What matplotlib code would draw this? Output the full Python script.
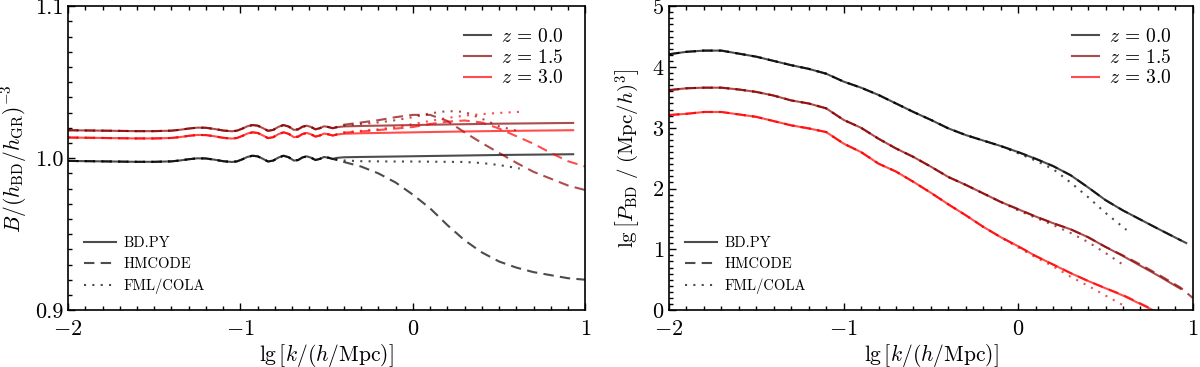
import numpy as np
import matplotlib
matplotlib.use("Agg")
import matplotlib.pyplot as plt
from matplotlib.lines import Line2D
from matplotlib.ticker import MultipleLocator, FormatStrFormatter

plt.rcParams['mathtext.fontset'] = 'cm'
plt.rcParams['font.family'] = 'serif'
plt.rcParams['font.serif'] = ['cmr10', 'DejaVu Serif']
plt.rcParams['axes.formatter.use_mathtext'] = True

redshifts = ['0.0', '1.5', '3.0']
colors = ['black', 'darkred', 'red']

# ---- left panel: boost ratio B/(h_BD/h_GR)^-3 ----
# BD.PY (solid); its low-k part is shared with the other two codes
bd_x = [-2.0, -1.8, -1.6, -1.5, -1.4, -1.35, -1.3, -1.25, -1.2, -1.15, -1.1, -1.05,
        -1.02, -0.99, -0.96, -0.93, -0.9, -0.87, -0.84, -0.81, -0.78, -0.75, -0.72,
        -0.69, -0.665, -0.64, -0.615, -0.59, -0.565, -0.54, -0.515, -0.49, -0.465,
        -0.44, -0.4, -0.3, -0.1, 0.2, 0.5, 0.93]
bd_z0 = [0.9982, 0.9979, 0.9976, 0.9976, 0.9979, 0.9985, 0.9993, 0.9999, 0.9998, 0.9990,
         0.9980, 0.9975, 0.9979, 0.9992, 1.0008, 1.0016, 1.0012, 0.9996, 0.9978, 0.9984,
         1.0004, 1.0016, 1.0006, 0.9984, 0.9988, 1.0005, 1.0012, 1.0003, 0.9988, 0.9995,
         1.0008, 1.0003, 0.9995, 1.0002, 1.0006, 1.0008, 1.0011, 1.0016, 1.0021, 1.0026]
bd_z15 = [1.0184, 1.0181, 1.0178, 1.0178, 1.0181, 1.0187, 1.0195, 1.0201, 1.0200, 1.0192,
          1.0182, 1.0177, 1.0181, 1.0194, 1.0210, 1.0218, 1.0214, 1.0198, 1.0180, 1.0186,
          1.0206, 1.0218, 1.0208, 1.0186, 1.0190, 1.0207, 1.0214, 1.0205, 1.0190, 1.0197,
          1.0210, 1.0205, 1.0197, 1.0204, 1.0209, 1.0212, 1.0216, 1.0222, 1.0227, 1.0232]
bd_z3 = [1.0136, 1.0133, 1.0130, 1.0130, 1.0133, 1.0139, 1.0147, 1.0153, 1.0152, 1.0144,
         1.0134, 1.0129, 1.0133, 1.0146, 1.0162, 1.0170, 1.0166, 1.0150, 1.0132, 1.0138,
         1.0158, 1.0170, 1.0160, 1.0138, 1.0142, 1.0159, 1.0166, 1.0157, 1.0142, 1.0149,
         1.0162, 1.0157, 1.0149, 1.0156, 1.0161, 1.0164, 1.0168, 1.0174, 1.0179, 1.0184]
n_shared = bd_x.index(-0.44)

# HMCODE (dashed) beyond the shared part
hm_x = [-0.4, -0.3, -0.2, -0.1, 0.0, 0.1, 0.2, 0.3, 0.4, 0.5, 0.6, 0.7, 0.8, 0.9, 1.0]
hm_z0 = [0.9975, 0.9945, 0.9900, 0.9840, 0.9760, 0.9670, 0.9560, 0.9460, 0.9380, 0.9320,
         0.9280, 0.9250, 0.9230, 0.9210, 0.9200]
hm_z15 = [1.0220, 1.0235, 1.0250, 1.0270, 1.0285, 1.0285, 1.0245, 1.0170, 1.0100, 1.0035,
          0.9970, 0.9910, 0.9865, 0.9820, 0.9790]
hm_z3 = [1.0168, 1.0176, 1.0185, 1.0195, 1.0205, 1.0225, 1.0240, 1.0248, 1.0235, 1.0195,
         1.0145, 1.0095, 1.0035, 0.9980, 0.9945]

# FML/COLA (dotted) beyond the shared part
fml_x = [-0.4, -0.3, -0.2, -0.1, 0.0, 0.1, 0.2, 0.3, 0.4, 0.5, 0.62]
fml_z0 = [0.9985, 0.9980, 0.9979, 0.9978, 0.9978, 0.9977, 0.9976, 0.9975, 0.9968, 0.9955, 0.9932]
fml_z15 = [1.0215, 1.0225, 1.0235, 1.0250, 1.0270, 1.0295, 1.0310, 1.0305, 1.0260, 1.0210, 1.0175]
fml_z3 = [1.0170, 1.0180, 1.0190, 1.0205, 1.0225, 1.0245, 1.0265, 1.0280, 1.0290, 1.0298, 1.0305]

# ---- right panel: lg P_BD ----
pk_x = [-2.0, -1.9, -1.8, -1.7, -1.6, -1.5, -1.4, -1.3, -1.2, -1.1, -1.0, -0.9, -0.8,
        -0.7, -0.6, -0.5, -0.4, -0.3, -0.2, -0.1, 0.0, 0.1, 0.2, 0.3, 0.4, 0.5, 0.6,
        0.7, 0.8, 0.93]
pk_z0 = [4.21, 4.25, 4.27, 4.27, 4.22, 4.17, 4.10, 4.03, 3.97, 3.89, 3.76, 3.66, 3.54,
         3.40, 3.26, 3.13, 2.99, 2.88, 2.79, 2.70, 2.60, 2.49, 2.37, 2.22, 2.02, 1.81,
         1.64, 1.49, 1.34, 1.15]
pk_z15 = [3.62, 3.65, 3.66, 3.66, 3.63, 3.59, 3.53, 3.45, 3.40, 3.32, 3.13, 3.00, 2.82,
          2.66, 2.52, 2.36, 2.19, 2.06, 1.92, 1.78, 1.66, 1.54, 1.43, 1.33, 1.20, 1.04,
          0.89, 0.73, 0.57, 0.35]
pk_z3 = [3.21, 3.23, 3.26, 3.26, 3.22, 3.18, 3.11, 3.04, 2.99, 2.93, 2.74, 2.60, 2.41,
         2.28, 2.11, 1.93, 1.74, 1.56, 1.37, 1.20, 1.05, 0.89, 0.75, 0.61, 0.48, 0.36,
         0.24, 0.10, -0.04, -0.22]

# HMCODE power spectrum (dashed), high-k end
pk_hm_x = [0.6, 0.7, 0.8, 0.93, 1.0]
pk_hm_z0 = [1.64, 1.49, 1.34, 1.15, 1.05]
pk_hm_z15 = [0.90, 0.75, 0.59, 0.37, 0.20]
pk_hm_z3 = [0.25, 0.11, -0.03, -0.21, -0.30]

# FML/COLA power spectrum (dotted), high-k end
pk_fml_x = [0.0, 0.1, 0.2, 0.3, 0.4, 0.5, 0.62]
pk_fml_z0 = [2.58, 2.46, 2.32, 2.10, 1.86, 1.60, 1.32]
pk_fml_z15 = [1.64, 1.52, 1.40, 1.27, 1.12, 0.94, 0.71]
pk_fml_z3 = [1.03, 0.87, 0.72, 0.55, 0.40, 0.24, 0.05]

fig = plt.figure(figsize=(12, 3.67), dpi=100)
ax1 = fig.add_axes([0.0567, 0.155, 0.431, 0.828])
ax2 = fig.add_axes([0.5575, 0.155, 0.4365, 0.828])

lw = 1.5
al = 0.7
dash = (0, (5, 3))
dot = (0, (1, 3))

bd_left = [bd_z0, bd_z15, bd_z3]
hm_left = [hm_z0, hm_z15, hm_z3]
fml_left = [fml_z0, fml_z15, fml_z3]
for c, b, h, f in zip(colors, bd_left, hm_left, fml_left):
    ax1.plot(bd_x, b, color=c, alpha=al, lw=lw, ls='-')
    ax1.plot(bd_x[:n_shared] + hm_x, b[:n_shared] + h, color=c, alpha=al, lw=lw, ls=dash)
    ax1.plot(bd_x[:n_shared] + fml_x, b[:n_shared] + f, color=c, alpha=al, lw=lw, ls=dot)

pk_bd = [pk_z0, pk_z15, pk_z3]
pk_hm = [pk_hm_z0, pk_hm_z15, pk_hm_z3]
pk_fml = [pk_fml_z0, pk_fml_z15, pk_fml_z3]
n_hm = pk_x.index(0.6)
n_fml = pk_x.index(0.0)
for c, b, h, f in zip(colors, pk_bd, pk_hm, pk_fml):
    ax2.plot(pk_x, b, color=c, alpha=al, lw=lw, ls='-')
    ax2.plot(pk_x[:n_hm] + pk_hm_x, b[:n_hm] + h, color=c, alpha=al, lw=lw, ls=dash)
    ax2.plot(pk_x[:n_fml] + pk_fml_x, b[:n_fml] + f, color=c, alpha=al, lw=lw, ls=dot)

xlabel = r'$\mathrm{lg}\,\left[k/(h/\mathrm{Mpc})\right]$'
ax1.set_xlim(-2, 1)
ax1.set_ylim(0.9, 1.1)
ax1.set_xlabel(xlabel, fontsize=15.5, labelpad=2)
ax1.set_ylabel(r'$B/(h_{\mathrm{BD}}/h_{\mathrm{GR}})^{-3}$', fontsize=15.5, labelpad=4)
ax1.yaxis.set_major_locator(MultipleLocator(0.1))
ax1.yaxis.set_minor_locator(MultipleLocator(0.01))
ax1.yaxis.set_major_formatter(FormatStrFormatter('%.1f'))

ax2.set_xlim(-2, 1)
ax2.set_ylim(0, 5)
ax2.set_xlabel(xlabel, fontsize=15.5, labelpad=2)
ax2.set_ylabel(r'$\mathrm{lg}\,\left[P_{\mathrm{BD}}\ /\ (\mathrm{Mpc}/h)^3\right]$',
               fontsize=15, labelpad=6)
ax2.yaxis.set_major_locator(MultipleLocator(1))
ax2.yaxis.set_minor_locator(MultipleLocator(0.1))

for ax in (ax1, ax2):
    ax.xaxis.set_major_locator(MultipleLocator(1))
    ax.xaxis.set_minor_locator(MultipleLocator(0.1))
    ax.tick_params(which='both', direction='in', top=True, right=False, labelsize=16, width=1)
    ax.tick_params(which='major', length=5)
    ax.tick_params(which='minor', length=3)
    ax.tick_params(axis='x', which='major', pad=7)
    for s in ax.spines.values():
        s.set_linewidth(1.2)

    z_handles = [Line2D([], [], color=c, alpha=al, lw=lw) for c in colors]
    z_labels = [rf'$z\,=\,{z}$' for z in redshifts]
    leg1 = ax.legend(z_handles, z_labels, loc='upper right', frameon=False, fontsize=14,
                     handlelength=1.4, labelspacing=0.15, handletextpad=0.5,
                     borderaxespad=0.7)
    ax.add_artist(leg1)
    ls_handles = [Line2D([], [], color='0.3', lw=lw, ls=s) for s in ['-', dash, dot]]
    ax.legend(ls_handles, ['BD.PY', 'HMCODE', 'FML/COLA'], loc='lower left', frameon=False,
              fontsize=10.5, handlelength=2.2, labelspacing=0.5, handletextpad=0.5,
              borderaxespad=0.7)

fig.savefig('out.png', dpi=100)
